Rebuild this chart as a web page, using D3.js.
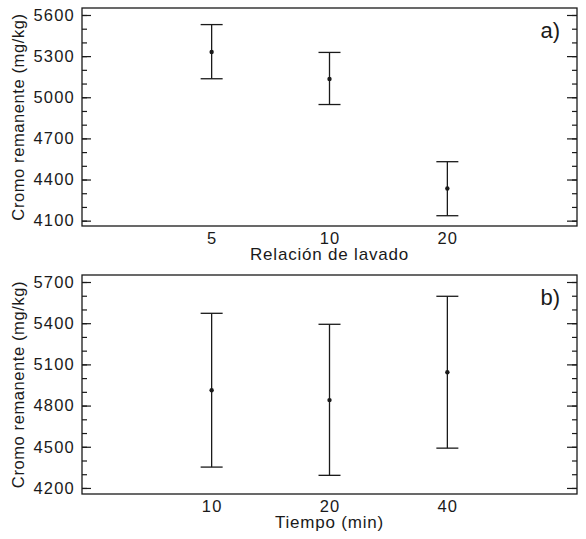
<!DOCTYPE html>
<html>
<head>
<meta charset="utf-8">
<script src="https://cdn.jsdelivr.net/npm/d3@7"></script>
<style>
	body { margin: 0; background: #fff; }
	text { font-family: "Liberation Sans", Arial, sans-serif; fill: #1a1a1a; }
	.domain { display: none; }
	.tick line { stroke: #1a1a1a; stroke-width: 1.2; }
</style>
</head>
<body>
<div class="container"></div>
<script>
var	WIDTH = 586,
	HEIGHT = 539,
	LEFT = 82,
	RIGHT = 577;

// panel a: Relación de lavado
var catsA = ['5', '10', '20'],
	meanA = [5330, 5133, 4335],
	upperA = [5530, 5327, 4530],
	lowerA = [5135, 4947, 4136],
	ticksA = [4100, 4400, 4700, 5000, 5300, 5600];

// panel b: Tiempo (min)
var catsB = ['10', '20', '40'],
	meanB = [4912, 4840, 5043],
	upperB = [5472, 5392, 5596],
	lowerB = [4352, 4292, 4490],
	ticksB = [4200, 4500, 4800, 5100, 5400, 5700];

var svg = d3.select('.container').append('svg')
	.attr('width', WIDTH)
	.attr('height', HEIGHT);

function drawPanel(p) {
	var g = svg.append('g');

	var xScale = d3.scaleLinear()
		.domain([-0.1, 4.1])
		.range([LEFT, RIGHT]);

	var yScale = d3.scaleLinear()
		.domain(p.domain)
		.range([p.bottom, p.top]);

	var minor = d3.range(Math.ceil(p.domain[0] / 100) * 100, p.domain[1], 100);

	// minor ticks, both sides
	g.append('g')
		.attr('transform', 'translate(' + LEFT + ',0)')
		.call(d3.axisLeft(yScale).tickValues(minor).tickSize(-5).tickFormat(''));
	g.append('g')
		.attr('transform', 'translate(' + RIGHT + ',0)')
		.call(d3.axisRight(yScale).tickValues(minor).tickSize(-5).tickFormat(''));

	// major ticks
	var yAxis = g.append('g')
		.attr('transform', 'translate(' + LEFT + ',0)')
		.call(d3.axisLeft(yScale).tickValues(p.ticks).tickSize(-9).tickPadding(7).tickFormat(d3.format('d')));
	yAxis.selectAll('text')
		.style('font-size', '16.5px')
		.style('letter-spacing', '1.2px');

	g.append('g')
		.attr('transform', 'translate(' + RIGHT + ',0)')
		.call(d3.axisRight(yScale).tickValues(p.ticks).tickSize(-10).tickFormat(''));

	var xAxis = g.append('g')
		.attr('transform', 'translate(0,' + p.bottom + ')')
		.call(d3.axisBottom(xScale).tickValues([1, 2, 3]).tickSize(0).tickPadding(6)
			.tickFormat(function(d) { return p.cats[d - 1]; }));
	xAxis.selectAll('text')
		.style('font-size', '16.5px')
		.style('letter-spacing', '1.2px');

	// frame
	g.append('rect')
		.attr('x', LEFT)
		.attr('y', p.top)
		.attr('width', RIGHT - LEFT)
		.attr('height', p.bottom - p.top)
		.attr('fill', 'none')
		.attr('stroke', '#1a1a1a')
		.attr('stroke-width', 1.3);

	// error bars
	var bars = g.selectAll('.bar')
		.data(p.mean).enter()
		.append('g')
		.attr('class', 'bar');

	bars.append('line')
		.attr('x1', function(d, i) { return xScale(i + 1); })
		.attr('x2', function(d, i) { return xScale(i + 1); })
		.attr('y1', function(d, i) { return yScale(p.upper[i]); })
		.attr('y2', function(d, i) { return yScale(p.lower[i]); });
	bars.append('line')
		.attr('x1', function(d, i) { return xScale(i + 1) - 11; })
		.attr('x2', function(d, i) { return xScale(i + 1) + 11; })
		.attr('y1', function(d, i) { return yScale(p.upper[i]); })
		.attr('y2', function(d, i) { return yScale(p.upper[i]); });
	bars.append('line')
		.attr('x1', function(d, i) { return xScale(i + 1) - 11; })
		.attr('x2', function(d, i) { return xScale(i + 1) + 11; })
		.attr('y1', function(d, i) { return yScale(p.lower[i]); })
		.attr('y2', function(d, i) { return yScale(p.lower[i]); });
	bars.selectAll('line')
		.attr('stroke', '#1a1a1a')
		.attr('stroke-width', 1.3);

	bars.append('circle')
		.attr('cx', function(d, i) { return xScale(i + 1); })
		.attr('cy', function(d) { return yScale(d); })
		.attr('r', 2.2)
		.attr('fill', '#1a1a1a');

	// titles
	g.append('text')
		.attr('x', (LEFT + RIGHT) / 2)
		.attr('y', p.bottom + 34)
		.attr('text-anchor', 'middle')
		.style('font-size', '17px')
		.style('letter-spacing', '0.8px')
		.text(p.xTitle);

	g.append('text')
		.attr('transform', 'translate(24,' + (p.top + p.bottom) / 2 + ') rotate(-90)')
		.attr('text-anchor', 'middle')
		.style('font-size', '16.5px')
		.style('letter-spacing', '0.6px')
		.text('Cromo remanente (mg/kg)');

	g.append('text')
		.attr('x', 560)
		.attr('y', p.top + 30)
		.attr('text-anchor', 'end')
		.style('font-size', '22px')
		.text(p.label);
}

drawPanel({
	top: 8, bottom: 226, domain: [4061, 5651], ticks: ticksA,
	cats: catsA, mean: meanA, upper: upperA, lower: lowerA,
	xTitle: 'Relación de lavado', label: 'a)'
});

drawPanel({
	top: 275, bottom: 494, domain: [4156, 5751], ticks: ticksB,
	cats: catsB, mean: meanB, upper: upperB, lower: lowerB,
	xTitle: 'Tiempo (min)', label: 'b)'
});
</script>
</body>
</html>
